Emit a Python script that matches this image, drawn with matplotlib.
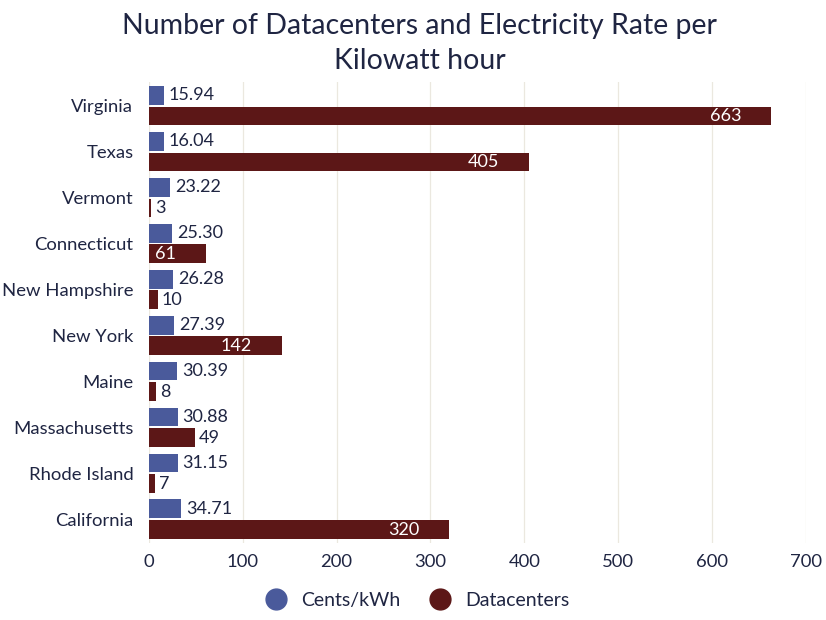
import matplotlib
matplotlib.use("Agg")

import matplotlib.pyplot as plt
from matplotlib.lines import Line2D
import numpy as np

states = ["Virginia", "Texas", "Vermont", "Connecticut", "New Hampshire",
          "New York", "Maine", "Massachusetts", "Rhode Island", "California"]
cents_kwh = [15.94, 16.04, 23.22, 25.30, 26.28, 27.39, 30.39, 30.88, 31.15, 34.71]
datacenters = [663, 405, 3, 61, 10, 142, 8, 49, 7, 320]
xticks = [0, 100, 200, 300, 400, 500, 600, 700]

BLUE = "#4a5a9b"
RED = "#5c1717"
TEXT = "#1f2542"

plt.rcParams['font.family'] = ['Lato', 'DejaVu Sans']

fig = plt.figure(figsize=(8.26, 6.2), dpi=100)
ax = fig.add_axes([0.180, 0.124, 0.796, 0.744])

y = np.arange(len(states))
h = 0.41
ax.barh(y - h / 2 - 0.02, cents_kwh, height=h, color=BLUE, zorder=3)
ax.barh(y + h / 2 + 0.02, datacenters, height=h, color=RED, zorder=3)

# -------------------------
# value labels
# -------------------------
for i, v in enumerate(cents_kwh):
    ax.text(v + 5, y[i] - h / 2 - 0.02, f"{v:.2f}", va="center", ha="left",
            fontsize=13, color=TEXT, zorder=4)

for i, v in enumerate(datacenters):
    yy = y[i] + h / 2 + 0.02
    if v >= 60:
        ax.text(v - 32, yy, f"{v}", va="center", ha="right",
                fontsize=13, color="white", zorder=4)
    else:
        ax.text(v + 4, yy, f"{v}", va="center", ha="left",
                fontsize=13, color=TEXT, zorder=4)

ax.set_ylim(9.52, -0.52)
ax.set_xlim(0, 700)
ax.set_yticks(y)
ax.set_yticklabels(states, fontsize=13.3, color=TEXT)
ax.set_xticks(xticks)
ax.set_xticklabels([str(t) for t in xticks], fontsize=13.3, color=TEXT)
ax.tick_params(length=0, pad=8)
ax.tick_params(axis="y", pad=11)

for s in ax.spines.values():
    s.set_visible(False)
ax.grid(axis="x", color="#ebe8df", linewidth=0.9, zorder=0)

fig.text(0.508, 0.930, "Number of Datacenters and Electricity Rate per\nKilowatt hour",
         ha="center", va="center", fontsize=20.5, color=TEXT, linespacing=1.4)

handles = [
    Line2D([], [], marker="o", linestyle="", markersize=15, color=BLUE, label="Cents/kWh"),
    Line2D([], [], marker="o", linestyle="", markersize=15, color=RED, label="Datacenters"),
]
fig.legend(handles=handles, loc="center", bbox_to_anchor=(0.5, 0.032), ncol=2,
           frameon=False, fontsize=14, labelcolor=TEXT, handletextpad=0.3,
           columnspacing=1.0)

plt.savefig("out.png", dpi=100)
